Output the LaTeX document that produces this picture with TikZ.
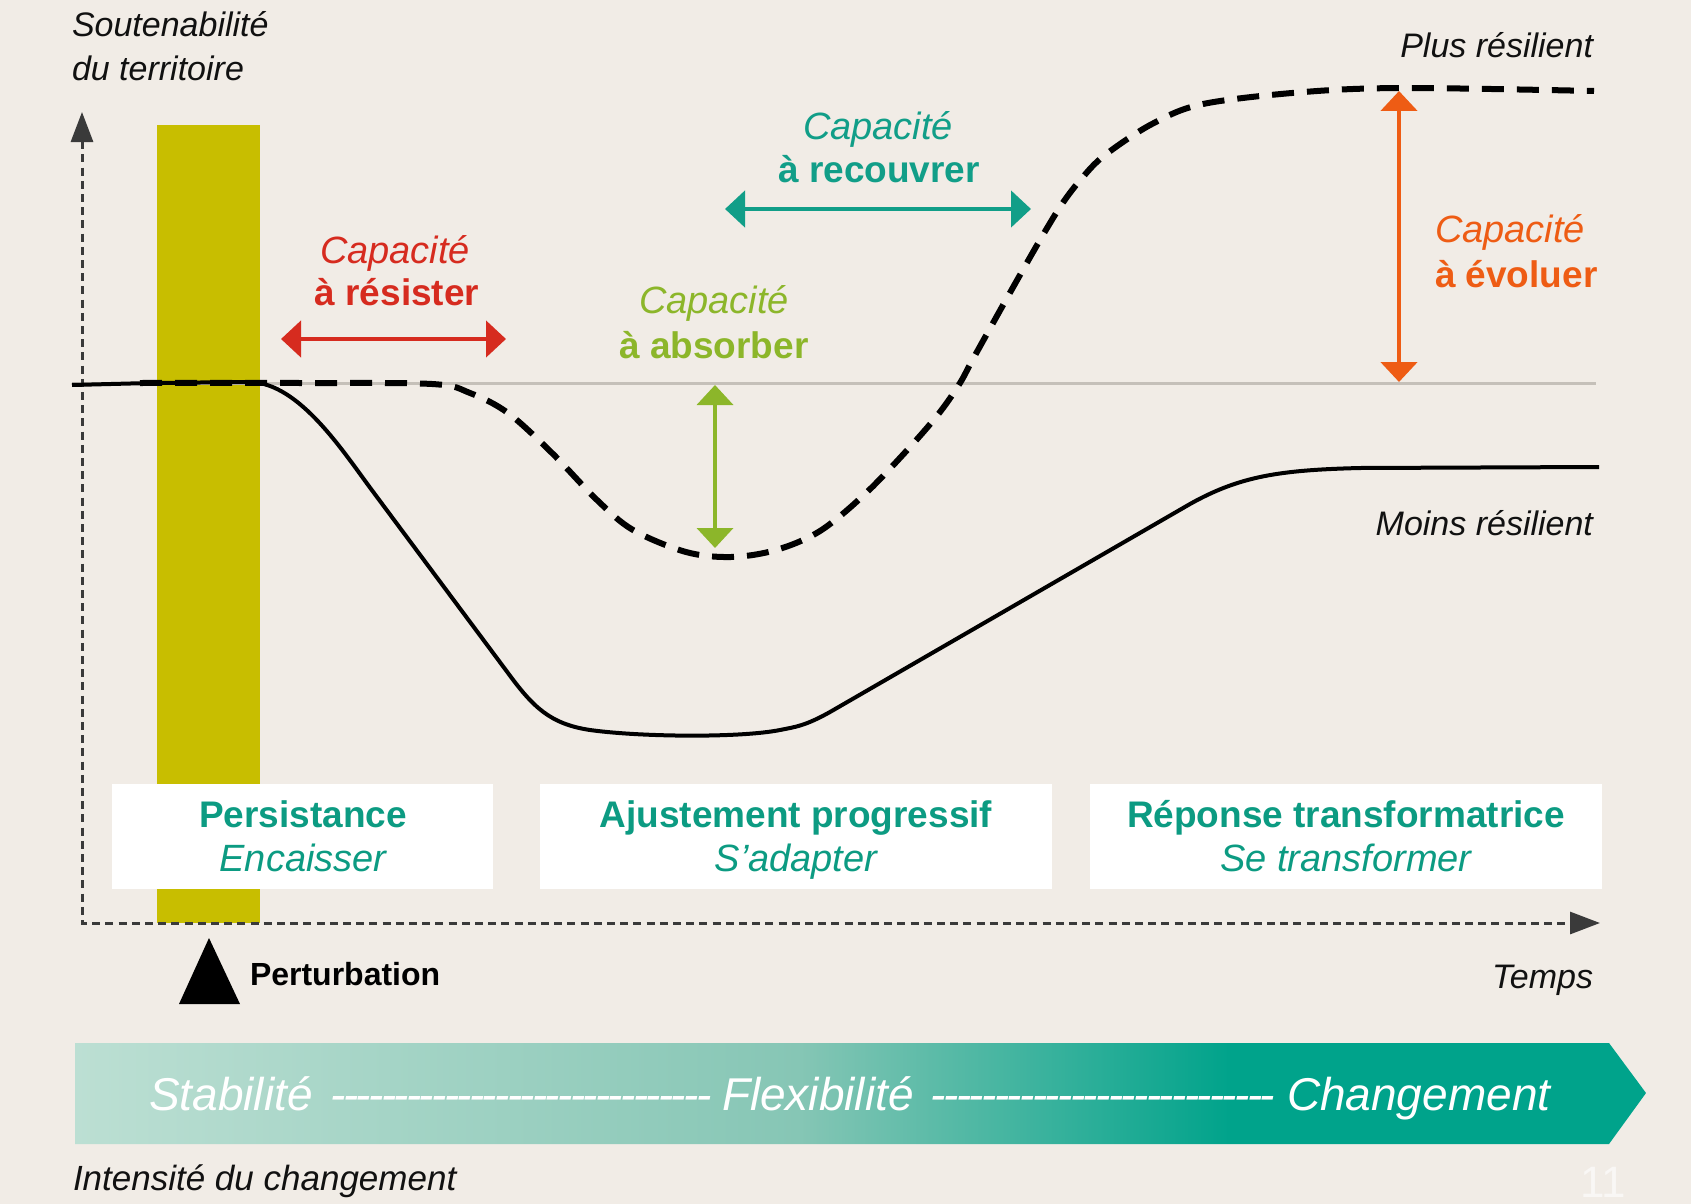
\documentclass[tikz,border=0pt]{standalone}
\usepackage{fontspec}
\setmainfont{Liberation Sans}
\usetikzlibrary{arrows.meta}
\definecolor{bg}{HTML}{F1ECE6}
\definecolor{yel}{HTML}{C8BE00}
\definecolor{redc}{HTML}{D62B1F}
\definecolor{greenc}{HTML}{8CB62A}
\definecolor{tealc}{HTML}{119E88}
\definecolor{orangec}{HTML}{EE5C14}
\definecolor{boxteal}{HTML}{0C9B82}
\definecolor{axisc}{HTML}{3A3A3A}
\definecolor{refline}{HTML}{C5C0B9}
\definecolor{bandA}{HTML}{BCDFD3}
\definecolor{bandB}{HTML}{86C6B5}
\definecolor{bandC}{HTML}{00A38B}
\definecolor{inkc}{HTML}{111111}
\pgfdeclarehorizontalshading{bandshade}{100bp}{color(0bp)=(bandA); color(25bp)=(bandA); color(48bp)=(bandB); color(61.8bp)=(bandC); color(100bp)=(bandC)}
\newcommand{\dashfill}[1]{\hbox to #1{\xleaders\hbox to 6.3pt{\hss-\hss}\hfill}}
\begin{document}
\begin{tikzpicture}[x=0.5pt,y=-0.5pt,
  every node/.style={inner sep=0pt, outer sep=0pt},
  blacklab/.style={font=\fontsize{17}{20}\selectfont\itshape, text=inkc},
  capit/.style={font=\fontsize{19}{22}\selectfont\itshape},
  capbf/.style={font=\fontsize{18.5}{22}\selectfont\bfseries},
  boxbf/.style={font=\fontsize{18.5}{22}\selectfont\bfseries, text=boxteal},
  boxit/.style={font=\fontsize{19}{22}\selectfont\itshape, text=boxteal},
  bandtxt/.style={font=\fontsize{23}{26}\selectfont\itshape, text=white},
  phasebox/.style={fill=white, anchor=north west, minimum height=52.5pt},
  axisline/.style={draw=axisc, line width=1.5pt, dash pattern=on 4pt off 2.6pt,
     {Triangle[length=15pt,width=11pt]}-{Triangle[length=15pt,width=11pt]}},
  caparrow/.style={line width=2.4pt,
     {Triangle[length=10pt,width=18pt]}-{Triangle[length=10pt,width=18pt]}},
  curvesolid/.style={line width=2pt, draw=black, line join=round},
  curvedash/.style={line width=3pt, draw=black, dash pattern=on 11pt off 6.5pt}
]
\useasboundingbox (0,0) rectangle (1691,1204);
\fill[bg] (0,0) rectangle (1691,1204);

% perturbation bar
\fill[yel] (157,125) rectangle (260,923);

% reference line
\draw[refline, line width=1.5pt] (72,383) -- (1596,383);

% axes
\coordinate (ytip) at (82,112);
\coordinate (orig) at (82,923);
\coordinate (xtip) at (1600,923);
\draw[axisline] (ytip) -- (orig) -- (xtip);

% less resilient curve (solid)
\draw[curvesolid] (72,385) -- (150,383) -- (250,382)
  .. controls (300,383) and (344,453) .. (374,493)
  -- (508,673)
  .. controls (533,707) and (550,724) .. (590,730)
  .. controls (640,737) and (740,738) .. (780,730)
  .. controls (795,727) and (805,726) .. (830,712)
  -- (1190,504)
  .. controls (1240,476) and (1280,470) .. (1360,468)
  -- (1599,467);

% more resilient curve (dashed)
\draw[curvedash] plot[smooth, tension=0.55] coordinates {
  (140,383) (300,383) (432,384) (470,393) (508,413) (552,453) (597,500)
  (633,530) (686,552) (731,557) (776,550) (820,531) (865,494) (910,447)
  (940,412) (960,383) (973,359) (1007,298) (1040,240) (1062,204)
  (1082,178) (1105,155) (1152,124) (1203,104) (1304,92) (1405,88) (1594,91)};

% phase boxes
\node[phasebox, minimum width=190.5pt] (b1) at (112,784) {};
\node[phasebox, minimum width=256pt] (b2) at (540,784) {};
\node[phasebox, minimum width=256pt] (b3) at (1090,784) {};
\node[boxbf, anchor=base] (b1t) at (303,827) {Persistance};
\node[boxit, anchor=base] (b1s) at (303,871) {Encaisser};
\node[boxbf, anchor=base] (b2t) at (796,827) {Ajustement progressif};
\node[boxit, anchor=base] (b2s) at (796,871) {S’adapter};
\node[boxbf, anchor=base] (b3t) at (1346,827) {Réponse transformatrice};
\node[boxit, anchor=base] (b3s) at (1346,871) {Se transformer};

% capacity arrows
\coordinate (rL) at (281,339); \coordinate (rR) at (506,339);
\draw[caparrow, redc, line width=2.3pt] (rL) -- (rR);
\coordinate (gT) at (715,385); \coordinate (gB) at (715,548);
\draw[caparrow, greenc, line width=2pt] (gT) -- (gB);
\coordinate (tL) at (725,209); \coordinate (tR) at (1031,209);
\draw[caparrow, tealc] (tL) -- (tR);
\coordinate (oT) at (1399,91); \coordinate (oB) at (1399,382);
\draw[caparrow, orangec] (oT) -- (oB);

% capacity labels
\node[capit, text=redc, anchor=base] (r1) at (395,263) {Capacité};
\node[capbf, text=redc, anchor=base] (r2) at (397,305) {à résister};
\node[capit, text=greenc, anchor=base] (g1) at (714,313) {Capacité};
\node[capbf, text=greenc, anchor=base] (g2) at (714,358) {à absorber};
\node[capit, text=tealc, anchor=base] (t1) at (878,140) {Capacité};
\node[capbf, text=tealc, anchor=base] (t2) at (879,183) {à recouvrer};
\node[capit, text=orangec, anchor=base west] (o1) at (1435,242) {Capacité};
\node[capbf, text=orangec, anchor=base west] (o2) at (1435,287) {à évoluer};

% axis and curve labels
\node[blacklab, anchor=base west] (yl1) at (72,37) {Soutenabilité};
\node[blacklab, anchor=base west] (yl2) at (72,81) {du territoire};
\node[blacklab, anchor=base east] (plus) at (1593,58) {Plus résilient};
\node[blacklab, anchor=base east] (moins) at (1593,535) {Moins résilient};
\node[blacklab, anchor=base east] (temps) at (1593,988) {Temps};

% perturbation
\fill[black] (209,938) -- (240,1004) -- (179,1004) -- cycle;
\node[font=\fontsize{16}{19}\selectfont\bfseries, text=black, anchor=base west] (pert) at (250,985) {Perturbation};

% change band
\shade[shading=bandshade] (75,1043) -- (1609,1043) -- (1646,1093) -- (1609,1144) -- (75,1144) -- cycle;
\node[bandtxt, anchor=base west] (stab) at (149,1110) {Stabilité};
\node[bandtxt, anchor=base west] (d1) at (332,1110) {\dashfill{189pt}};
\node[bandtxt, anchor=base west] (flex) at (722,1110) {Flexibilité};
\node[bandtxt, anchor=base west] (d2) at (932,1110) {\dashfill{171pt}};
\node[bandtxt, anchor=base west] (chg) at (1287,1110) {Changement};
\node[blacklab, font=\fontsize{17.5}{20}\selectfont\itshape, anchor=base west] (intens) at (73,1190) {Intensité du changement};
\node[font=\fontsize{22}{26}\selectfont, text=white!60!bg, anchor=base west] (pg) at (1580,1197) {11};
\end{tikzpicture}
\end{document}
